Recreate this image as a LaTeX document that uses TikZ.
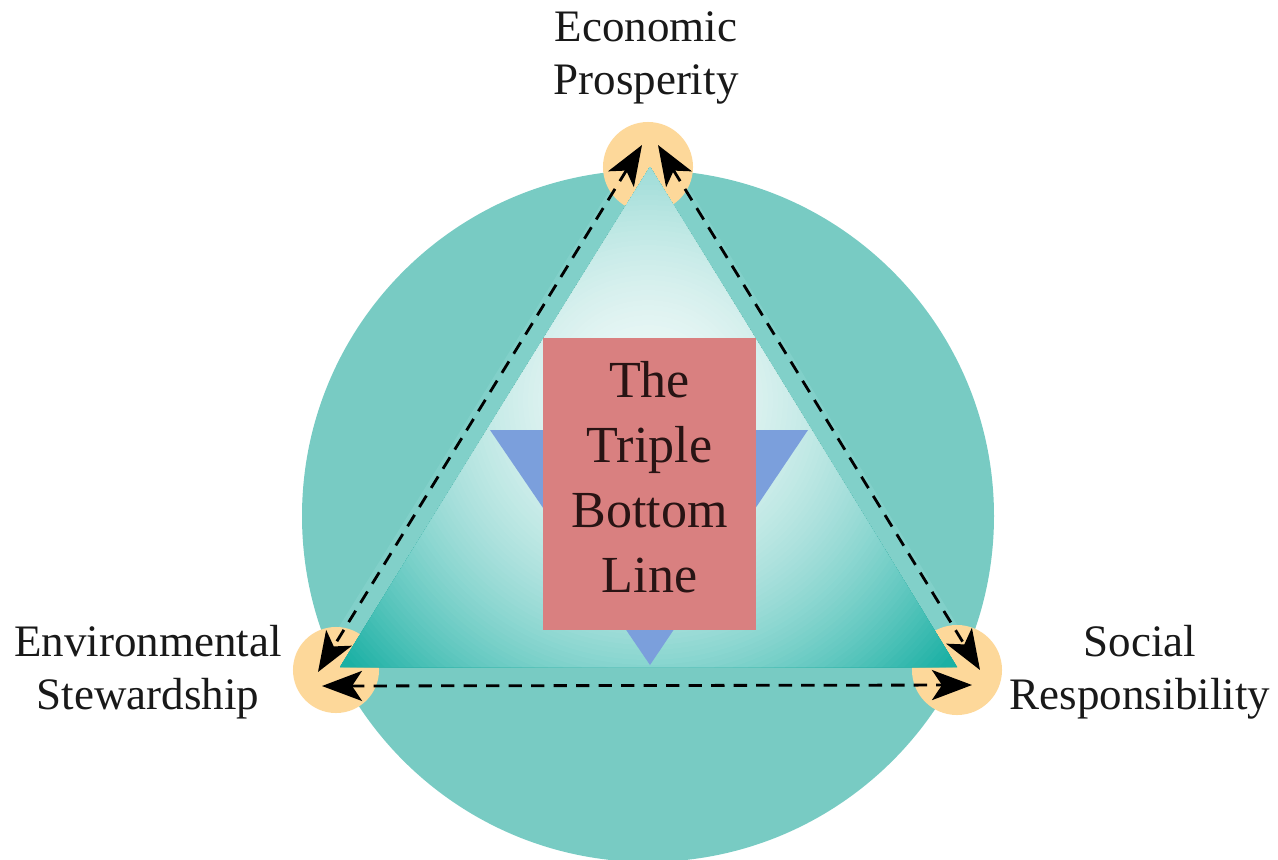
\documentclass[tikz,border=0pt]{standalone}
\usepackage{fontspec}
\setmainfont{Liberation Serif}
\usetikzlibrary{arrows.meta}
\definecolor{ringteal}{RGB}{120,203,195}
\definecolor{bandteal}{RGB}{129,208,201}
\definecolor{dotgold}{RGB}{253,216,154}
\definecolor{wedgeblue}{RGB}{123,159,220}
\definecolor{boxred}{RGB}{217,128,128}
\definecolor{boxink}{RGB}{40,20,20}
\definecolor{glowA}{RGB}{238,248,247}
\definecolor{glowD}{RGB}{27,176,164}
\begin{document}
\begin{tikzpicture}[
      x=0.01cm, y=0.01cm,
      every node/.style={align=center, text=black!90, font=\fontsize{12.8}{15.2}\selectfont},
      vertexdot/.style={circle, fill=dotgold, minimum size=0.9cm, inner sep=0pt},
      bigbox/.style={fill=boxred, text=boxink, minimum width=2.13cm, minimum height=2.92cm, inner sep=0pt, font=\fontsize{14.8}{18.5}\selectfont},
      cyc/.style={dash pattern=on 3.8pt off 2.6pt, line width=0.8pt,
        {Stealth[length=4mm,width=3mm,inset=1mm]}-{Stealth[length=4mm,width=3mm,inset=1mm]}},]
    \useasboundingbox (0,0) rectangle (1278,859);
    \fill[ringteal] (648,343) circle (346);
    \fill[bandteal] (650,734) -- (983,192) -- (314,192) -- cycle;
    \node[vertexdot] (econ) at (648,692) {};
    \node[vertexdot, minimum size=0.86cm] (envir) at (336,189) {};
    \node[vertexdot] (social) at (957,189) {};
    \begin{scope}
      \clip (650,692) -- (957,192) -- (340,192) -- cycle;
      \foreach \r in {430,425,...,5} {
        \pgfmathsetmacro\mixp{min(100,100*(\r/400)^1.8)}
        \fill[glowD!\mixp!glowA] (648,459) circle (\r);
      }
    \end{scope}
    \fill[wedgeblue] (490,429) -- (808,429) -- (650,194) -- cycle;
    \node[bigbox] (tbl) at (649.5,375) {The\\Triple\\Bottom\\Line\rule[-4pt]{0pt}{0pt}};
    \node (econlbl) at (646,801) {Economic\\Prosperity};
    \node (envirlbl) at (148,187) {Environmental\\Stewardship};
    \node (sociallbl) at (1140,187) {Social\\Responsibility};
    \coordinate (econ-l) at ([shift={(-6,22)}]econ.center);
    \coordinate (econ-r) at ([shift={(10,22)}]econ.center);
    \coordinate (envir-t) at ([shift={(-18,-2)}]envir.center);
    \coordinate (envir-b) at ([shift={(-14,-16)}]envir.center);
    \coordinate (social-t) at ([shift={(23,0)}]social.center);
    \coordinate (social-b) at ([shift={(15,-15)}]social.center);
    \draw[cyc] (econ-l) -- (envir-t);
    \draw[cyc] (econ-r) -- (social-t);
    \draw[cyc] (envir-b) -- (social-b);
\end{tikzpicture}
\end{document}
